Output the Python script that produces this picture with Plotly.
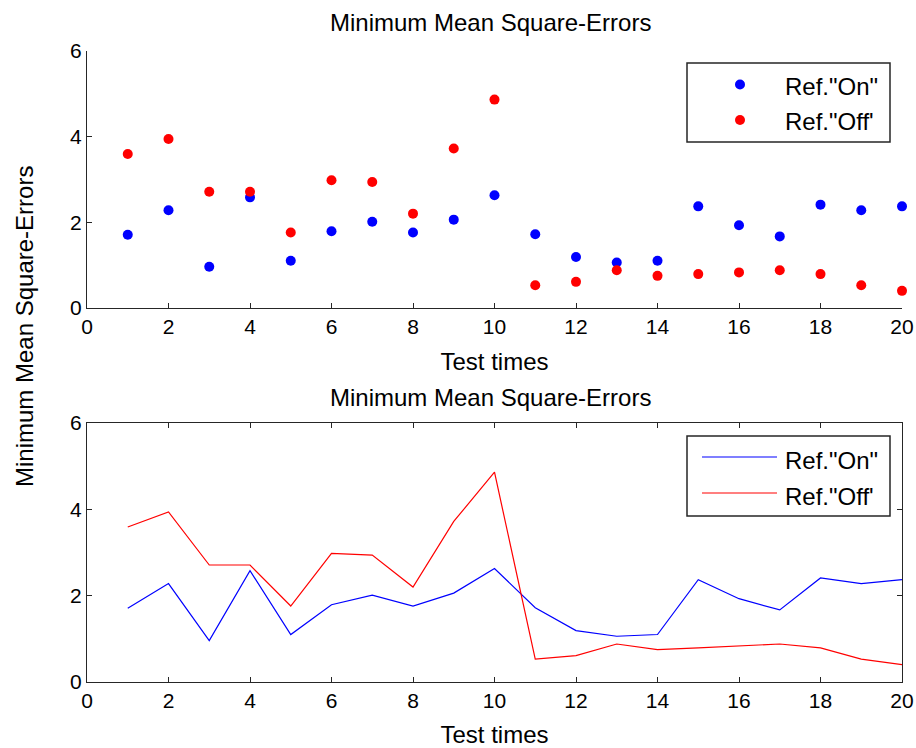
import plotly.graph_objects as go

# Test numbers and the minimum mean square-error recorded for each reference setting
test_times = list(range(1, 21))
ref_on = [1.71, 2.28, 0.96, 2.58, 1.10, 1.79, 2.01, 1.76, 2.06, 2.63,
          1.72, 1.19, 1.06, 1.10, 2.37, 1.93, 1.67, 2.41, 2.28, 2.37]
ref_off = [3.59, 3.94, 2.71, 2.71, 1.76, 2.98, 2.94, 2.20, 3.72, 4.86,
           0.53, 0.61, 0.88, 0.75, 0.79, 0.83, 0.88, 0.79, 0.53, 0.40]
series_names = ['Ref."On"', 'Ref."Off\'']
series_colors = ["#0000ff", "#ff0000"]
x_ticks = list(range(0, 21, 2))
y_ticks = [0, 2, 4, 6]

W, H = 916, 748
FONT = "Arial, Liberation Sans, sans-serif"
AXIS_COLOR = "#262626"
LABEL_SIZE = 24


def fx(px):
    return px / W


def fy(py):
    return 1 - py / H


fig = go.Figure()

# Upper panel: points only
for vals, name, color in zip([ref_on, ref_off], series_names, series_colors):
    fig.add_trace(go.Scatter(
        x=test_times, y=vals, mode="markers", name=name,
        marker=dict(color=color, size=10, line=dict(width=0)),
        cliponaxis=False, showlegend=False, xaxis="x", yaxis="y"))

# Lower panel: connected lines
for vals, name, color in zip([ref_on, ref_off], series_names, series_colors):
    fig.add_trace(go.Scatter(
        x=test_times, y=vals, mode="lines", name=name,
        line=dict(color=color, width=1.2),
        showlegend=False, xaxis="x2", yaxis="y2"))

axis_common = dict(
    showgrid=False, zeroline=False, showline=True, linecolor=AXIS_COLOR,
    linewidth=1.3, ticks="inside", ticklen=5, tickwidth=1, tickcolor=AXIS_COLOR,
    tickfont=dict(family=FONT, size=21, color="#000000"), automargin=False,
)

x_dom = [fx(87), fx(902)]
fig.update_layout(
    width=W, height=H,
    margin=dict(l=0, r=0, t=0, b=0),
    paper_bgcolor="white", plot_bgcolor="white",
    font=dict(family=FONT, color="#000000"),
    xaxis=dict(domain=x_dom, range=[0, 20], tickvals=x_ticks, anchor="y",
               mirror=False,
               title=dict(text="Test times", font=dict(size=LABEL_SIZE), standoff=15),
               **axis_common),
    yaxis=dict(domain=[fy(308), fy(50.7)], range=[0, 6], tickvals=y_ticks,
               anchor="x", mirror=False, **axis_common),
    xaxis2=dict(domain=x_dom, range=[0, 20], tickvals=x_ticks, anchor="y2",
                mirror="ticks",
                title=dict(text="Test times", font=dict(size=LABEL_SIZE), standoff=14),
                **axis_common),
    yaxis2=dict(domain=[fy(682), fy(423)], range=[0, 6], tickvals=y_ticks,
                anchor="x2", mirror="ticks", **axis_common),
)

# Panel titles and the shared y label
annotations = [
    dict(text="Minimum Mean Square-Errors", x=fx(491), y=fy(22)),
    dict(text="Minimum Mean Square-Errors", x=fx(491), y=fy(397)),
    dict(text="Minimum Mean Square-Errors", x=fx(24), y=fy(327), textangle=-90),
]
for a in annotations:
    fig.add_annotation(xref="paper", yref="paper", showarrow=False,
                       xanchor="center", yanchor="middle",
                       font=dict(family=FONT, size=LABEL_SIZE, color="#000000"), **a)

# Legend boxes
shapes = []
for top, bottom in [(63, 142), (436, 516)]:
    shapes.append(dict(type="rect", xref="paper", yref="paper",
                       x0=fx(687), x1=fx(890), y0=fy(bottom), y1=fy(top),
                       line=dict(color=AXIS_COLOR, width=1.5),
                       fillcolor="white", layer="above"))

# Upper legend: dot symbols
for cy, name, color in zip([84.5, 120], series_names, series_colors):
    shapes.append(dict(type="circle", xref="paper", yref="paper",
                       x0=fx(735), x1=fx(745), y0=fy(cy + 5), y1=fy(cy - 5),
                       line=dict(width=0), fillcolor=color, layer="above"))
    fig.add_annotation(xref="paper", yref="paper", showarrow=False,
                       x=fx(783), y=fy(cy + 2), xanchor="left", yanchor="middle",
                       text=name, font=dict(family=FONT, size=LABEL_SIZE, color="#000000"))

# Lower legend: line symbols
for cy, name, color in zip([457, 493], series_names, series_colors):
    shapes.append(dict(type="line", xref="paper", yref="paper",
                       x0=fx(702), x1=fx(777), y0=fy(cy), y1=fy(cy),
                       line=dict(color=color, width=1.2), layer="above"))
    fig.add_annotation(xref="paper", yref="paper", showarrow=False,
                       x=fx(783), y=fy(cy + 3), xanchor="left", yanchor="middle",
                       text=name, font=dict(family=FONT, size=LABEL_SIZE, color="#000000"))

fig.update_layout(shapes=shapes)

fig.write_html("out.html")
